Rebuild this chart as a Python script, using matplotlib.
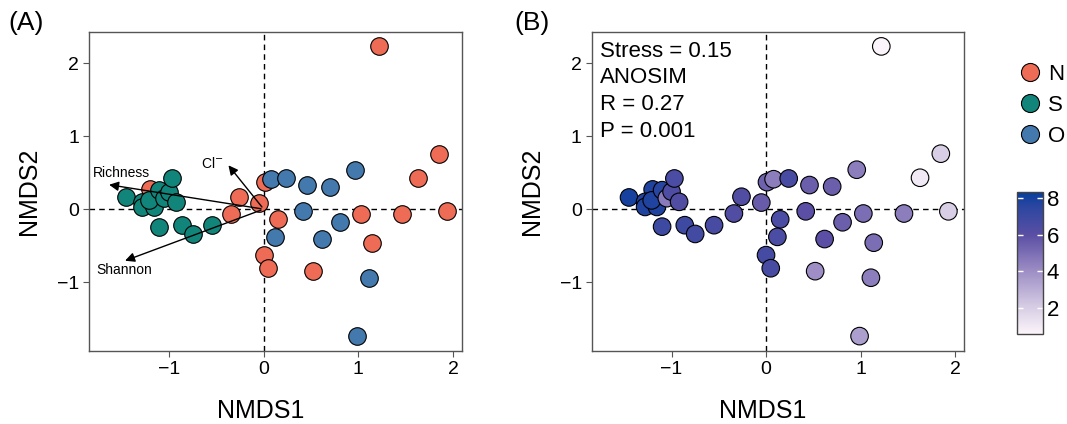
import numpy as np
import matplotlib
matplotlib.use("Agg")
import matplotlib.pyplot as plt
from matplotlib.colors import LinearSegmentedColormap, Normalize
from matplotlib.lines import Line2D

plt.rcParams["font.family"] = ["Liberation Sans", "DejaVu Sans"]

# NMDS site scores, per group
n_x = [-1.20, -0.26, -0.34, -0.05, 0.01, 0.15, 0.00, 0.05, 1.22, 1.85, 1.63, 1.93, 1.46, 1.03, 1.14, 0.52]
n_y = [0.27, 0.17, -0.06, 0.09, 0.37, -0.14, -0.63, -0.81, 2.23, 0.76, 0.43, -0.03, -0.06, -0.06, -0.46, -0.85]
n_val = [7.8, 6.3, 6.3, 5.6, 5.4, 6.5, 6.7, 6.6, 0.6, 2.0, 1.0, 2.0, 4.5, 5.0, 5.0, 4.0]

s_x = [-1.45, -1.28, -1.28, -1.155, -1.21, -1.10, -1.05, -1.00, -0.97, -0.92, -1.10, -0.86, -0.75, -0.55]
s_y = [0.16, 0.10, 0.03, 0.03, 0.12, 0.26, 0.15, 0.24, 0.42, 0.10, -0.24, -0.22, -0.34, -0.22]
s_val = [8.0, 7.8, 7.8, 7.8, 7.8, 7.6, 4.6, 6.4, 6.5, 6.3, 6.9, 6.9, 6.8, 6.6]

o_x = [0.08, 0.24, 0.46, 0.70, 0.96, 0.42, 0.81, 0.62, 0.12, 1.11, 0.99]
o_y = [0.41, 0.42, 0.33, 0.31, 0.54, -0.03, -0.18, -0.41, -0.38, -0.94, -1.74]
o_val = [4.5, 6.6, 5.5, 5.5, 4.5, 6.0, 5.5, 6.0, 6.5, 4.5, 3.5]

groups = ["N", "S", "O"]
group_colors = ["#EE6C55", "#12857B", "#4479AD"]

# environmental fitting vectors (arrow tips)
vec_names = ["Richness", "Shannon", "Cl$^{-}$"]
vec_x = [-1.66, -1.49, -0.39]
vec_y = [0.34, -0.72, 0.63]
vec_lab_x = [-1.50, -1.47, -0.54]
vec_lab_y = [0.50, -0.84, 0.63]

stats_text = ["Stress = 0.15", "ANOSIM", "R = 0.27", "P = 0.001"]
cbar_ticks = [2, 4, 6, 8]
cbar_lim = (0.54, 8.33)

xlim = (-1.84, 2.09)
ylim = (-1.945, 2.43)

cmap = LinearSegmentedColormap.from_list(
    "lavblue",
    [(0.0, "#fcf5fa"), (0.2, "#d5cbe3"), (0.45, "#9c8cc4"),
     (0.7, "#5a4fa4"), (0.9, "#2c46a0"), (1.0, "#073e9d")])
norm = Normalize(*cbar_lim)

fig = plt.figure(figsize=(10.67, 4.24), dpi=100)
ax1 = fig.add_axes([0.0837, 0.172, 0.349, 0.753])
ax2 = fig.add_axes([0.555, 0.172, 0.348, 0.753])

xs = [n_x, s_x, o_x]
ys = [n_y, s_y, o_y]
vals = [n_val, s_val, o_val]


def style_axis(ax):
    ax.axhline(0, color="black", ls=(0, (4, 3)), lw=1, zorder=1)
    ax.axvline(0, color="black", ls=(0, (4, 3)), lw=1, zorder=1)
    ax.set_xlim(*xlim)
    ax.set_ylim(*ylim)
    ax.set_xticks([-1, 0, 1, 2])
    ax.set_yticks([-1, 0, 1, 2])
    ax.tick_params(labelsize=14, length=4, color="#555555", width=0.8)
    for sp in ax.spines.values():
        sp.set_color("#555555")
        sp.set_linewidth(1.0)
    ax.set_xlabel("NMDS1", fontsize=18)
    ax.set_ylabel("NMDS2", fontsize=18)
    ax.xaxis.set_label_coords(0.46, -0.15)
    ax.yaxis.set_label_coords(-0.13, 0.5)


# Panel A
style_axis(ax1)
for gx, gy, col in zip(xs, ys, group_colors):
    ax1.scatter(gx, gy, s=160, c=col, edgecolors="black", linewidths=0.8, zorder=3)
for vx, vy, name, lx, ly in zip(vec_x, vec_y, vec_names, vec_lab_x, vec_lab_y):
    ax1.annotate("", xy=(vx, vy), xytext=(0, 0),
                 arrowprops=dict(arrowstyle="-|>", color="black", lw=1, mutation_scale=14),
                 zorder=4)
    ax1.text(lx, ly, name, fontsize=10, ha="center", va="center", zorder=5)

# Panel B
style_axis(ax2)
for gx, gy, gv in zip(xs, ys, vals):
    ax2.scatter(gx, gy, s=160, c=gv, cmap=cmap, norm=norm,
                edgecolors="black", linewidths=0.8, zorder=3)
ax2.text(0.022, 0.972, "\n".join(stats_text), transform=ax2.transAxes,
         fontsize=16, ha="left", va="top", linespacing=1.36)

fig.text(0.008, 0.975, "(A)", fontsize=19, ha="left", va="top")
fig.text(0.482, 0.975, "(B)", fontsize=19, ha="left", va="top")

# group legend
handles = [Line2D([], [], marker="o", ls="", markersize=13, markerfacecolor=c,
                  markeredgecolor="black", markeredgewidth=0.8) for c in group_colors]
fig.legend(handles, groups, loc="upper left", bbox_to_anchor=(0.955, 0.85),
           frameon=False, fontsize=16, handletextpad=0.3, labelspacing=0.45,
           borderpad=0, borderaxespad=0, handlelength=1.0)

# colour bar
cax = fig.add_axes([0.9529, 0.2116, 0.0244, 0.335])
sm = matplotlib.cm.ScalarMappable(norm=norm, cmap=cmap)
cb = fig.colorbar(sm, cax=cax, ticks=cbar_ticks)
cb.outline.set_edgecolor("#444444")
cb.outline.set_linewidth(1.0)
cax.tick_params(axis="y", direction="in", color="white", length=4, width=1,
                left=True, right=True, labelsize=16, pad=3)

fig.savefig("out.png", dpi=100)
